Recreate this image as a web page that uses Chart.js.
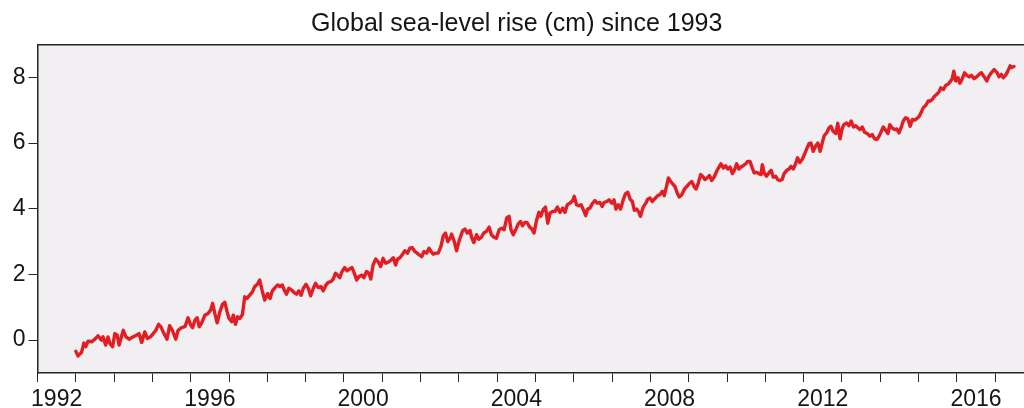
<!DOCTYPE html>
<html>
<head>
<meta charset="utf-8">
<script src="https://cdn.jsdelivr.net/npm/chart.js@4.4.1/dist/chart.umd.min.js"></script>
<style>
  html, body { margin: 0; padding: 0; background: #ffffff; overflow: hidden; width: 1024px; height: 408px; }
  #wrap { position: absolute; left: 0; top: 0; width: 1077px; height: 408px; }
</style>
</head>
<body>
<div id="wrap"><canvas id="c" width="1077" height="408"></canvas></div>
<script>
// ---- data ----
const titleText = "Global sea-level rise (cm) since 1993";
const years = [
  1993.00,1993.06,1993.15,1993.21,1993.26,1993.32,1993.41,1993.50,1993.58,1993.67,1993.71,1993.78,1993.84,1993.89,1993.96,
  1994.02,1994.08,1994.13,1994.24,1994.31,1994.39,1994.50,1994.58,1994.65,1994.72,1994.80,1994.87,1994.95,
  1995.02,1995.09,1995.16,1995.22,1995.28,1995.35,1995.38,1995.45,1995.52,1995.61,1995.67,1995.76,1995.85,1995.93,
  1996.00,1996.05,1996.11,1996.17,1996.22,1996.28,1996.37,1996.45,1996.52,1996.57,1996.63,1996.69,1996.76,1996.83,1996.89,1996.95,
  1997.00,1997.07,1997.11,1997.17,1997.22,1997.28,1997.35,1997.41,1997.47,1997.54,1997.61,1997.67,1997.74,1997.80,1997.86,1997.93,
  1998.01,1998.07,1998.13,1998.20,1998.27,1998.33,1998.39,1998.44,1998.50,1998.56,1998.63,1998.70,1998.76,1998.82,1998.88,1998.94,
  1999.01,1999.07,1999.13,1999.20,1999.26,1999.33,1999.40,1999.46,1999.53,1999.59,1999.66,1999.72,1999.78,1999.83,1999.89,1999.95,
  2000.02,2000.08,2000.15,2000.21,2000.27,2000.33,2000.39,2000.46,2000.52,2000.59,2000.65,2000.70,2000.76,2000.83,2000.89,2000.96,
  2001.02,2001.09,2001.15,2001.23,2001.29,2001.35,2001.40,2001.46,2001.52,2001.59,2001.66,2001.72,2001.78,2001.85,2001.91,2001.96,
  2002.03,2002.09,2002.16,2002.22,2002.27,2002.33,2002.39,2002.46,2002.53,2002.59,2002.65,2002.71,2002.77,2002.81,2002.88,2002.94,
  2003.00,2003.10,2003.16,2003.22,2003.29,2003.33,2003.39,2003.46,2003.52,2003.59,2003.65,2003.72,2003.79,2003.85,2003.91,2003.98,
  2004.05,2004.12,2004.18,2004.25,2004.31,2004.36,2004.42,2004.49,2004.55,2004.61,2004.66,2004.72,2004.78,2004.85,2004.91,2004.96,
  2005.03,2005.09,2005.14,2005.20,2005.26,2005.32,2005.38,2005.45,2005.51,2005.57,2005.64,2005.71,2005.77,2005.83,2005.90,2005.97,
  2006.01,2006.07,2006.13,2006.19,2006.25,2006.31,2006.36,2006.42,2006.48,2006.55,2006.61,2006.68,2006.74,2006.79,2006.86,2006.92,2006.99,
  2007.05,2007.10,2007.16,2007.22,2007.29,2007.35,2007.41,2007.47,2007.53,2007.58,2007.64,2007.70,2007.74,2007.81,2007.88,2007.93,2007.99,
  2008.05,2008.10,2008.19,2008.25,2008.31,2008.36,2008.42,2008.47,2008.53,2008.58,2008.64,2008.70,2008.75,2008.82,2008.88,2008.95,
  2009.01,2009.08,2009.14,2009.19,2009.25,2009.31,2009.36,2009.42,2009.48,2009.54,2009.60,2009.66,2009.73,2009.79,2009.84,2009.90,2009.96,
  2010.02,2010.08,2010.14,2010.19,2010.25,2010.31,2010.36,2010.42,2010.49,2010.54,2010.60,2010.66,2010.71,2010.77,2010.83,2010.89,2010.92,2010.97,
  2011.03,2011.09,2011.15,2011.21,2011.27,2011.32,2011.38,2011.44,2011.49,2011.56,2011.62,2011.67,2011.73,2011.79,2011.84,2011.90,2011.96,
  2012.02,2012.08,2012.14,2012.19,2012.25,2012.31,2012.37,2012.43,2012.49,2012.54,2012.60,2012.66,2012.71,2012.77,2012.84,2012.89,2012.95,
  2013.01,2013.05,2013.12,2013.18,2013.24,2013.30,2013.36,2013.42,2013.47,2013.53,2013.59,2013.66,2013.73,2013.79,2013.85,2013.91,2013.97,
  2014.01,2014.08,2014.14,2014.20,2014.25,2014.31,2014.38,2014.43,2014.49,2014.55,2014.60,2014.66,2014.72,2014.78,2014.84,2014.90,2014.95,
  2015.01,2015.07,2015.12,2015.19,2015.25,2015.30,2015.36,2015.42,2015.47,2015.53,2015.58,2015.65,2015.71,2015.77,2015.82,2015.88,2015.92,2015.97,
  2016.03,2016.08,2016.14,2016.20,2016.26,2016.32,2016.38,2016.45,2016.52,2016.58,2016.64,2016.71,2016.78,2016.84,2016.90,2016.97,
  2017.04,2017.10,2017.16,2017.21,2017.27,2017.33,2017.39,2017.43,2017.49
];
const seaLevel = [
  -0.34,-0.48,-0.37,-0.09,-0.20,-0.03,-0.05,0.03,0.13,0.00,0.10,-0.15,0.10,-0.10,-0.20,
  0.20,0.15,-0.15,0.30,0.10,0.03,0.10,0.15,0.20,-0.07,0.25,0.05,0.10,
  0.20,0.30,0.48,0.41,0.25,0.10,0.03,0.44,0.30,0.03,0.30,0.38,0.41,0.68,
  0.46,0.38,0.61,0.68,0.41,0.51,0.76,0.81,0.92,1.12,0.81,0.53,0.86,1.09,1.15,0.86,
  0.66,0.56,0.76,0.48,0.71,0.66,0.78,1.32,1.27,1.37,1.47,1.63,1.70,1.83,1.53,1.22,
  1.42,1.27,1.50,1.60,1.68,1.63,1.68,1.53,1.40,1.58,1.53,1.45,1.40,1.50,1.37,1.58,
  1.70,1.58,1.35,1.58,1.73,1.60,1.63,1.50,1.68,1.76,1.78,1.86,2.04,1.98,1.90,2.09,
  2.21,2.11,2.17,2.21,2.04,1.83,1.93,1.98,1.90,2.09,2.04,1.86,2.29,2.47,2.39,2.24,
  2.49,2.34,2.37,2.44,2.51,2.29,2.47,2.51,2.60,2.72,2.65,2.80,2.82,2.70,2.65,2.60,
  2.54,2.70,2.65,2.80,2.70,2.62,2.65,2.65,2.85,3.16,3.26,3.00,3.10,3.23,3.00,2.72,
  3.00,3.34,3.38,3.26,3.34,3.14,2.97,3.21,3.07,3.14,3.26,3.31,3.44,3.21,3.14,3.10,
  3.36,3.41,3.36,3.72,3.77,3.36,3.21,3.38,3.54,3.61,3.48,3.58,3.58,3.44,3.38,3.26,
  3.66,3.89,3.77,3.97,4.05,3.56,3.87,3.92,3.92,4.05,3.89,4.02,3.89,4.12,4.17,4.25,
  4.38,4.12,4.09,4.12,3.97,3.79,3.99,4.02,4.15,4.25,4.17,4.19,4.07,4.19,4.22,4.27,4.17,
  4.27,3.99,4.12,3.99,4.27,4.46,4.50,4.29,4.22,3.95,3.99,3.89,3.77,4.05,4.17,4.29,4.33,
  4.22,4.29,4.40,4.43,4.53,4.40,4.68,4.94,4.83,4.76,4.68,4.48,4.36,4.43,4.58,4.68,
  4.76,4.83,4.68,4.60,4.78,5.04,4.99,4.89,4.94,5.01,4.86,4.96,5.14,5.27,5.37,5.24,5.31,
  5.21,5.27,5.07,5.17,5.37,5.21,5.27,5.31,5.37,5.44,5.44,5.24,5.09,5.11,5.07,5.04,5.34,5.09,
  4.99,5.09,5.17,4.96,4.99,4.89,4.86,4.89,5.07,5.17,5.21,5.29,5.21,5.37,5.55,5.41,5.50,
  5.65,5.82,5.98,6.00,5.75,5.90,6.00,5.75,6.03,6.23,6.31,6.46,6.51,6.36,6.29,6.60,6.13,
  6.46,6.56,6.61,6.53,6.67,6.49,6.53,6.46,6.41,6.49,6.33,6.29,6.21,6.26,6.13,6.11,6.21,
  6.31,6.49,6.39,6.29,6.56,6.46,6.41,6.43,6.31,6.49,6.67,6.77,6.74,6.51,6.72,6.70,6.74,
  6.80,6.94,7.07,7.15,7.28,7.28,7.33,7.43,7.48,7.55,7.68,7.63,7.76,7.79,7.86,7.96,8.19,7.89,
  7.99,7.82,7.96,8.14,8.06,8.02,8.06,7.96,8.02,8.09,8.14,8.02,7.89,8.04,8.14,8.24,
  8.16,8.02,8.09,7.99,8.06,8.19,8.35,8.30,8.33
];
const yTickValues = [0, 2, 4, 6, 8];
const xTickYears = [1992,1993,1994,1995,1996,1997,1998,1999,2000,2001,2002,2003,2004,2005,2006,2007,2008,2009,2010,2011,2012,2013,2014,2015,2016,2017,2018];
const xLabelYears = [1992, 1996, 2000, 2004, 2008, 2012, 2016];

// ---- styles ----
const FONT = "'Liberation Sans', Arial, Helvetica, sans-serif";
const INK = '#161616';
const AXIS = '#262626';

const plotBg = {
  id: 'plotBg',
  beforeDraw(chart) {
    const a = chart.chartArea, ctx = chart.ctx;
    ctx.save();
    ctx.fillStyle = '#f1eff1';
    ctx.fillRect(a.left, a.top, a.right - a.left, a.bottom - a.top);
    ctx.restore();
  }
};

new Chart(document.getElementById('c'), {
  type: 'line',
  data: {
    datasets: [{
      data: years.map((x, i) => ({ x: x, y: seaLevel[i] })),
      borderColor: '#e21d24',
      borderWidth: 3.4,
      pointRadius: 0,
      tension: 0,
      borderJoinStyle: 'round',
      borderCapStyle: 'round',
      fill: false
    }]
  },
  options: {
    responsive: false,
    animation: false,
    devicePixelRatio: 1,
    layout: { padding: { left: 0, right: 43.5, top: 0, bottom: 0 } },
    plugins: {
      legend: { display: false },
      tooltip: { enabled: false },
      title: {
        display: true,
        text: titleText,
        color: INK,
        font: { family: FONT, size: 25, weight: 'normal', lineHeight: 1.2 },
        padding: { top: 9, bottom: 5.5 }
      }
    },
    scales: {
      x: {
        type: 'linear',
        position: 'bottom',
        min: 1992,
        max: 2018,
        afterBuildTicks(scale) {
          const t = xTickYears.map(v => ({ value: v }));
          xLabelYears.forEach(v => t.push({ value: v + 0.5 }));
          t.sort((a, b) => a.value - b.value);
          scale.ticks = t;
        },
        afterFit(scale) { scale.height = 35; },
        grid: {
          drawOnChartArea: false,
          drawTicks: true,
          tickLength: 9,
          tickWidth: 1,
          tickColor: (ctx) => (ctx.tick && ctx.tick.value % 1 === 0) ? AXIS : 'rgba(0,0,0,0)'
        },
        border: { display: true, color: AXIS, width: 1.5 },
        ticks: {
          autoSkip: false,
          maxRotation: 0,
          minRotation: 0,
          padding: 4,
          color: INK,
          font: { family: FONT, size: 23 },
          callback: (v) => (v % 1 !== 0) ? String(Math.floor(v)) : ''
        }
      },
      xTop: {
        type: 'linear',
        position: 'top',
        min: 1992,
        max: 2018,
        afterFit(scale) { scale.height = 0; },
        grid: { drawOnChartArea: false, drawTicks: false },
        border: { display: true, color: AXIS, width: 1.5 },
        ticks: { display: false }
      },
      y: {
        type: 'linear',
        position: 'left',
        min: -1,
        max: 9,
        afterBuildTicks(scale) { scale.ticks = yTickValues.map(v => ({ value: v })); },
        afterFit(scale) { scale.width = 37.5; },
        grid: {
          drawOnChartArea: false,
          drawTicks: true,
          tickLength: 9,
          tickWidth: 1,
          tickColor: AXIS
        },
        border: { display: true, color: AXIS, width: 1.5 },
        ticks: {
          padding: 3,
          color: INK,
          font: { family: FONT, size: 23 },
          callback: (v) => String(v)
        }
      }
    }
  },
  plugins: [plotBg]
});
</script>
</body>
</html>
